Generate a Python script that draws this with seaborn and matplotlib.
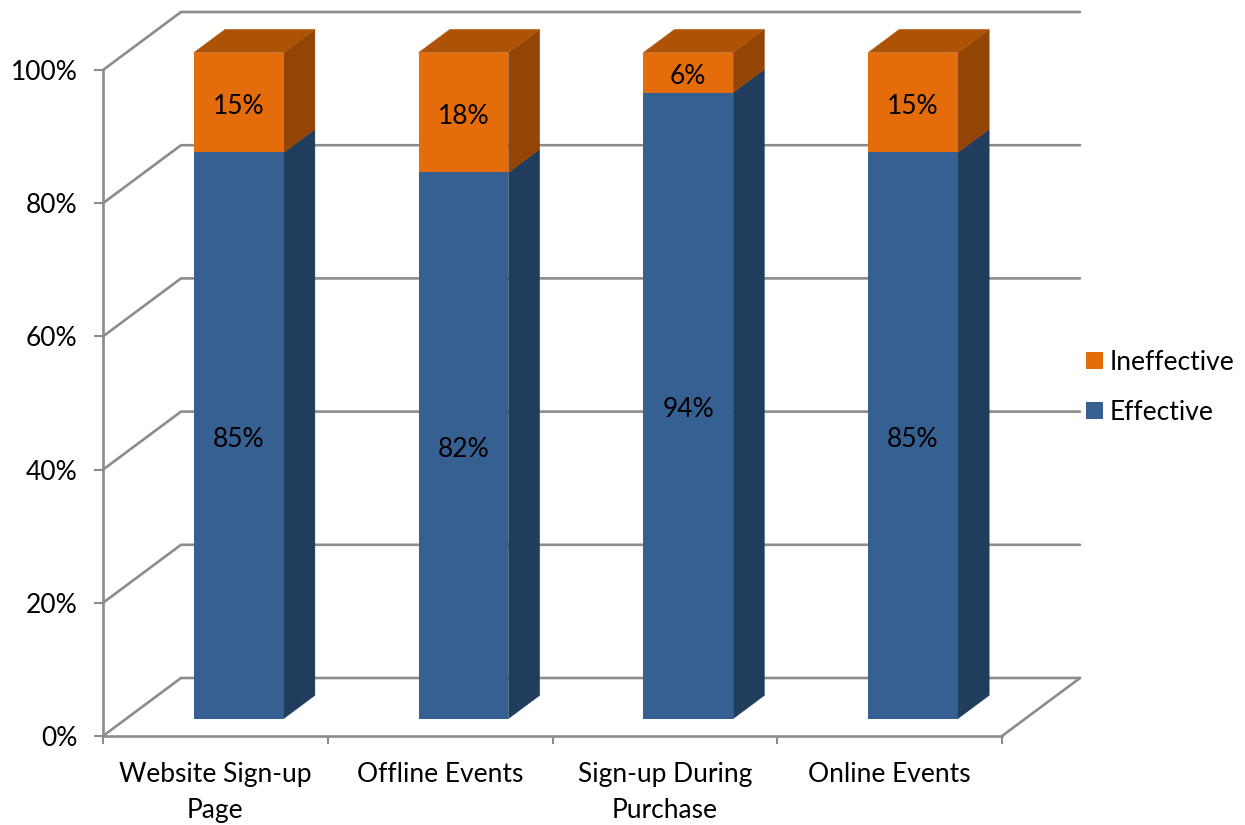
import matplotlib
matplotlib.use("Agg")
import matplotlib.pyplot as plt
from matplotlib.patches import Patch, Polygon
from matplotlib.transforms import Affine2D
import pandas as pd
import seaborn as sns

categories = ["Website Sign-up\nPage", "Offline Events", "Sign-up During\nPurchase", "Online Events"]
effective = [85, 82, 94, 85]
ineffective = [15, 18, 6, 15]
y_ticks = [0, 20, 40, 60, 80, 100]

BLUE, BLUE_SIDE = "#376092", "#203D5E"
ORANGE, ORANGE_SIDE, ORANGE_TOP = "#E46C0A", "#934505", "#AE5305"
GRID = "#8C8C8C"
FONT = 19

sns.set_style("white")
plt.rcParams["font.family"] = ["Lato", "DejaVu Sans"]
plt.rcParams["text.color"] = "black"

fig = plt.figure(figsize=(12.45, 8.25), dpi=100)
ax = fig.add_axes([103 / 1245, 1 - 736 / 825, 899 / 1245, 666 / 825])

df = pd.DataFrame({"category": categories, "effective": effective, "ineffective": ineffective})
df["total"] = df["effective"] + df["ineffective"]

# oblique projection of the chart's depth axis, in data units
DX, DY = 78 / 224.75, 58 / 6.66
D0, D1 = 0.30, 0.70
W = 0.40


def proj(x, v, d):
    return (x + d * DX, v + d * DY)


front = Affine2D().translate(D0 * DX, D0 * DY) + ax.transData
label_tf = front + Affine2D().translate(0, -3.5)

sns.barplot(data=df, x="category", y="total", color=ORANGE, saturation=1, width=W,
            order=categories, errorbar=None, linewidth=0, zorder=3, transform=front,
            clip_on=False, ax=ax)
sns.barplot(data=df, x="category", y="effective", color=BLUE, saturation=1, width=W,
            order=categories, errorbar=None, linewidth=0, zorder=3.1, transform=front,
            clip_on=False, ax=ax)

# walls and floor
for v in y_ticks:
    pts = [proj(-0.5, v, 0), proj(-0.5, v, 1), proj(3.5, v, 1)]
    ax.plot(*zip(*pts), color=GRID, lw=1.9, clip_on=False, zorder=1, solid_joinstyle="miter")
ax.plot(*zip(proj(3.5, 0, 0), proj(3.5, 0, 1)), color=GRID, lw=1.9, clip_on=False, zorder=1)

# side and top faces
for i, (e, t) in enumerate(zip(effective, df["total"])):
    xr = i + W / 2
    xl = i - W / 2
    faces = [
        ([proj(xr, 0, D0), proj(xr, e, D0), proj(xr, e, D1), proj(xr, 0, D1)], BLUE_SIDE),
        ([proj(xr, e, D0), proj(xr, t, D0), proj(xr, t, D1), proj(xr, e, D1)], ORANGE_SIDE),
        ([proj(xl, t, D0), proj(xr, t, D0), proj(xr, t, D1), proj(xl, t, D1)], ORANGE_TOP),
    ]
    for pts, c in faces:
        ax.add_patch(Polygon(pts, closed=True, fc=c, ec=c, lw=0.3, clip_on=False, zorder=2.5))

# data labels
for i, (e, n) in enumerate(zip(effective, ineffective)):
    ax.text(i, e / 2, f"{e}%", transform=label_tf, ha="center", va="center", fontsize=FONT, color="black", zorder=5)
    ax.text(i, e + n / 2, f"{n}%", transform=label_tf, ha="center", va="center", fontsize=FONT, color="black", zorder=5)

ax.set_xlim(-0.5, 3.5)
ax.set_ylim(0, 100)
ax.set_xlabel("")
ax.set_ylabel("")
ax.set_facecolor("none")
for s in ["top", "right"]:
    ax.spines[s].set_visible(False)
for s in ["left", "bottom"]:
    ax.spines[s].set_color(GRID)
    ax.spines[s].set_linewidth(1.9)

ax.set_yticks(y_ticks)
ax.set_yticklabels([f"{v}%" for v in y_ticks])
ax.set_xticks(range(len(categories)))
ax.set_xticklabels(categories, linespacing=1.55)
ax.set_xticks([-0.5, 0.5, 1.5, 2.5, 3.5], minor=True)
ax.tick_params(axis="y", which="major", left=True, length=6.5, width=1.5, color=GRID, pad=12, labelsize=FONT, labelcolor="black")
ax.tick_params(axis="x", which="major", bottom=False, pad=15.5, labelsize=FONT, labelcolor="black")
ax.tick_params(axis="x", which="minor", bottom=True, length=6, width=1.5, color=GRID)

handles = [Patch(fc=ORANGE, ec="none", label="Ineffective"), Patch(fc=BLUE, ec="none", label="Effective")]
fig.legend(handles=handles, loc="center left", bbox_to_anchor=(1062 / 1245, 1 - 387.5 / 825), frameon=False,
           fontsize=FONT, handlelength=0.64, handleheight=0.64, handletextpad=0.27, labelspacing=0.95,
           labelcolor="black")

fig.savefig("out.png", dpi=100)
